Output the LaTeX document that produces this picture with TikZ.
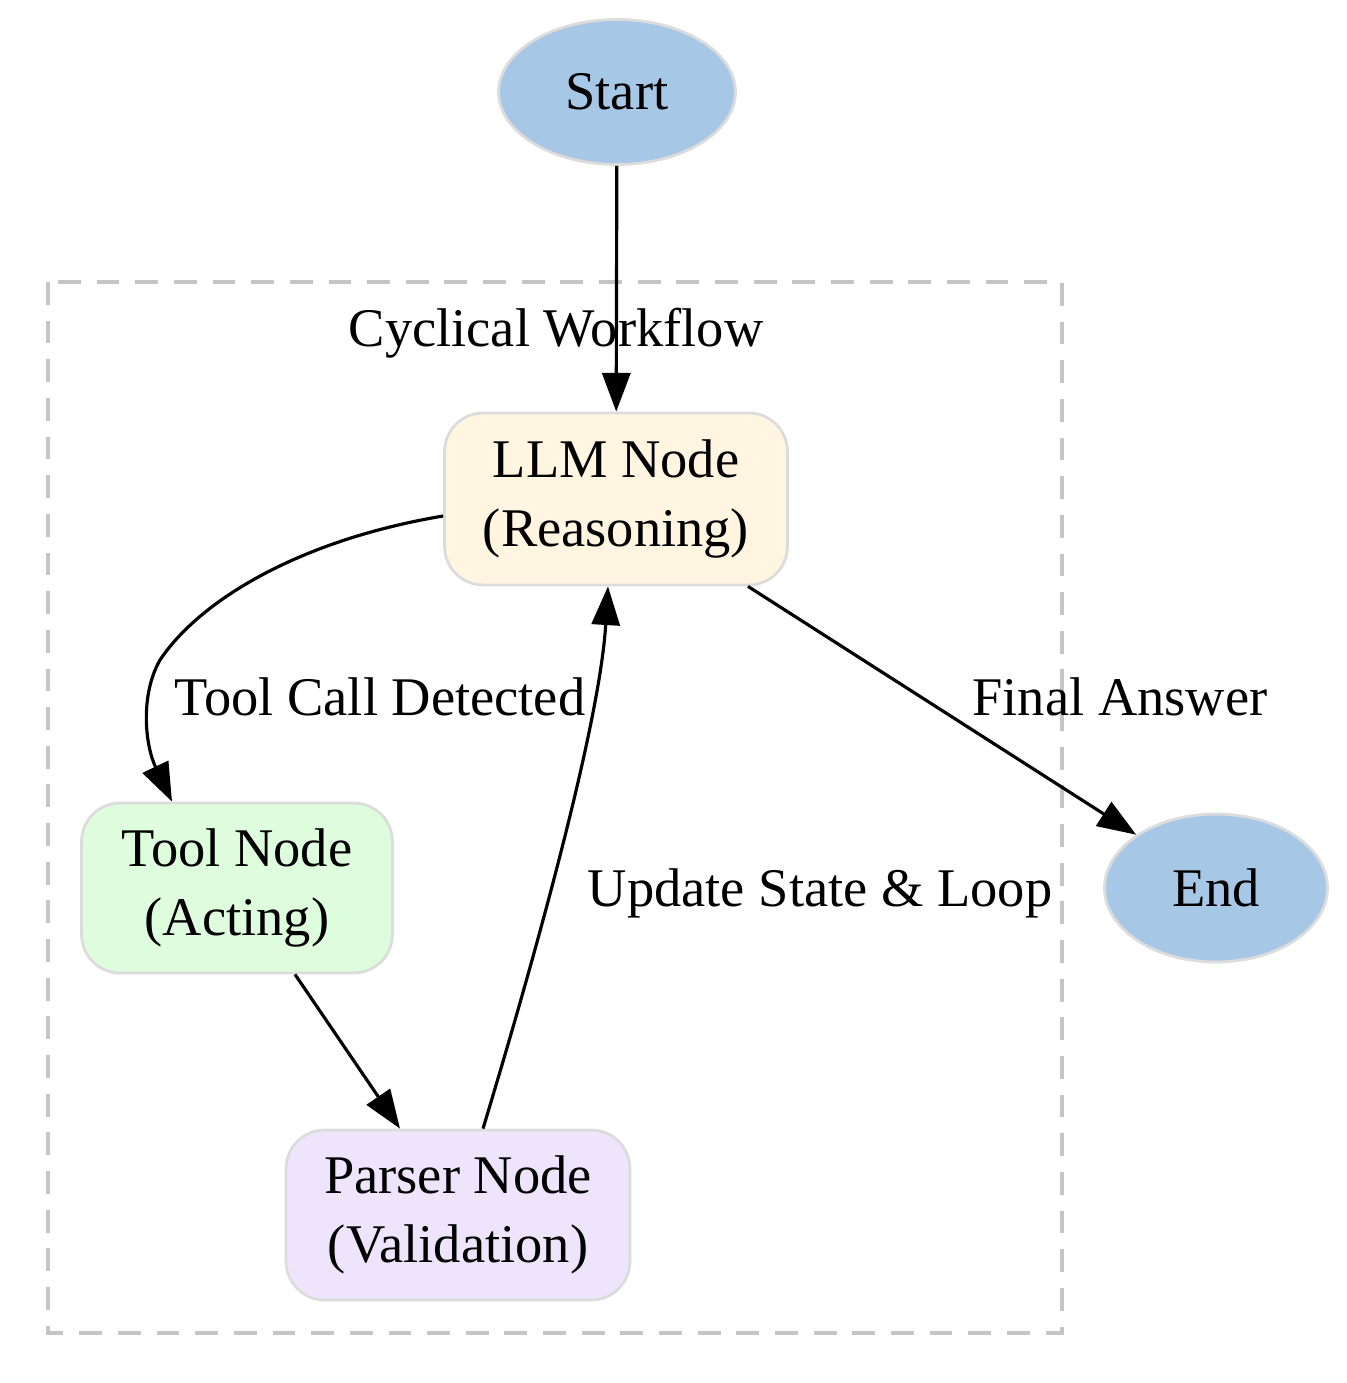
\documentclass[tikz,border=0pt]{standalone}
\usepackage{fontspec}
\setmainfont{Liberation Serif}
\usetikzlibrary{shapes.geometric,arrows.meta}
\definecolor{endblue}{HTML}{A7C7E7}
\definecolor{llmfill}{HTML}{FFF5E1}
\definecolor{toolfill}{HTML}{DDFDDD}
\definecolor{parsefill}{HTML}{EEE5FD}
\definecolor{edgegray}{HTML}{DCDCDC}
\tikzset{
  term/.style={ellipse, draw=edgegray, line width=1.6pt, fill=endblue, inner sep=0pt},
  stage/.style={rectangle, rounded corners=22pt, draw=edgegray, line width=1.6pt, align=center, inner sep=0pt},
  flow/.style={-{Triangle[length=22pt,width=16pt]}, line width=1.8pt},
  lbl/.style={inner sep=0pt}
}
\begin{document}
\begin{tikzpicture}[x=0.02cm,y=-0.02cm,font=\fontsize{31}{39}\selectfont]
  \useasboundingbox (0,0) rectangle (1346,1383);

  % cluster
  \draw[edgegray!75!gray, dash pattern=on 13pt off 9pt, line width=1.8pt] (48,282) rectangle (1062,1333);
  \node[lbl] (cluster) at (556,333) {Cyclical Workflow};

  % nodes
  \node[term, minimum width=4.74cm, minimum height=2.9cm] (start) at (617,92) {Start};
  \node[term, minimum width=4.46cm, minimum height=2.96cm] (end) at (1216,888) {End};
  \node[stage, fill=llmfill, minimum width=6.86cm, minimum height=3.44cm] (llm) at (616,499) {LLM Node\\(Reasoning)};
  \node[stage, fill=toolfill, minimum width=6.22cm, minimum height=3.4cm] (tool) at (237,888) {Tool Node\\(Acting)};
  \node[stage, fill=parsefill, minimum width=6.88cm, minimum height=3.4cm] (parser) at (458,1215) {Parser Node\\(Validation)};

  % edges
  \draw[flow] (start) -- (llm);
  \draw[flow] (llm.west |- 0,516) .. controls (300,540) and (200,600) .. (160,660)
    .. controls (140,695) and (145,745) .. (tool.north west -| 172,0);
  \draw[flow] (tool.south -| 295,0) -- (parser.north -| 400,0);
  \draw[flow] (parser.north -| 483,0) .. controls (540,940) and (600,720) .. (llm.south -| 608,0);
  \draw[flow] (llm.south east -| 748,0) -- (end.north west);

  % edge labels
  \node[lbl] (tcd) at (380,697) {Tool Call Detected};
  \node[lbl] (fa) at (1120,697) {Final Answer};
  \node[lbl] (usl) at (820,893) {Update State \& Loop};
\end{tikzpicture}
\end{document}
